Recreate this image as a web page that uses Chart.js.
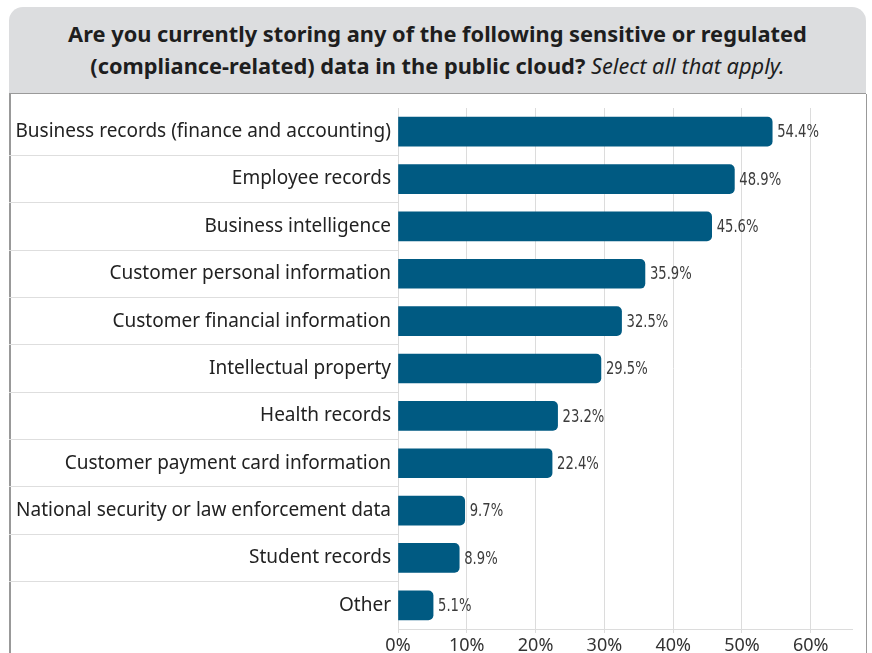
<!DOCTYPE html>
<html>
<head>
<meta charset="utf-8">
<script src="https://cdn.jsdelivr.net/npm/chart.js@4.4.1/dist/chart.umd.min.js"></script>
<style>
  html, body { margin: 0; padding: 0; background: #fff; overflow: hidden; }
  body { width: 872px; height: 653px; position: relative; }
  .header {
    position: absolute; left: 9px; top: 7px; width: 857px; height: 86px;
    background: #dcdddf; border-radius: 14px 14px 0 0;
    border-bottom: 1px solid #9a9a9a;
    font-family: "Noto Sans", sans-serif; font-weight: bold; font-size: 21.8px;
    line-height: 32px; color: #1e1e1e; text-align: center;
    display: flex; flex-direction: column; justify-content: center;
  }
  .header i { font-weight: normal; }
  .panel {
    position: absolute; left: 9px; top: 94px; width: 855px; height: 580px;
    border-left: 2px solid #999; border-right: 1px solid #999;
  }
  #chart { position: absolute; left: 9px; top: 94px; }
</style>
</head>
<body>
<div class="header">
  <div>Are you currently storing any of the following sensitive or regulated</div>
  <div>(compliance-related) data in the public cloud? <i>Select all that apply.</i></div>
</div>
<div class="panel"></div>
<canvas id="chart" width="857" height="559"></canvas>
<script>
// ====== DATA ======
const categories = [
  'Business records (finance and accounting)',
  'Employee records',
  'Business intelligence',
  'Customer personal information',
  'Customer financial information',
  'Intellectual property',
  'Health records',
  'Customer payment card information',
  'National security or law enforcement data',
  'Student records',
  'Other'
];
const percents = [54.4, 48.9, 45.6, 35.9, 32.5, 29.5, 23.2, 22.4, 9.7, 8.9, 5.1];
const xTicks = [0, 10, 20, 30, 40, 50, 60];
// ==================

const BAR = '#005a82';
const GRID = '#dcdcdc';

// value labels at bar ends (narrowed a bit to look condensed)
const valueLabels = {
  id: 'valueLabels',
  afterDatasetsDraw(chart){
    const { ctx } = chart;
    const meta = chart.getDatasetMeta(0);
    ctx.save();
    ctx.font = '17px "Liberation Sans Narrow", "DejaVu Sans Condensed", "Noto Sans", sans-serif';
    ctx.fillStyle = '#3c3c3c';
    ctx.textBaseline = 'middle';
    meta.data.forEach((bar, i) => {
      ctx.save();
      ctx.translate(bar.x + 5, bar.y + 1);
      ctx.scale(0.86, 1.05);
      ctx.fillText(percents[i].toFixed(1) + '%', 0, 0);
      ctx.restore();
    });
    ctx.restore();
  }
};

new Chart(document.getElementById('chart'), {
  type: 'bar',
  data: {
    labels: categories,
    datasets: [{
      data: percents,
      backgroundColor: BAR,
      borderRadius: 5,
      barThickness: 29
    }]
  },
  options: {
    indexAxis: 'y',
    responsive: false,
    animation: false,
    layout: { padding: { top: 14, right: 14, left: 0, bottom: 0 } },
    plugins: { legend: { display: false }, tooltip: { enabled: false } },
    scales: {
      x: {
        min: 0, max: 66,
        afterBuildTicks: s => { s.ticks = xTicks.map(v => ({ value: v })); },
        afterFit: s => { s.height = 24; },
        grid: { color: GRID, tickLength: 4 },
        border: { color: GRID },
        ticks: {
          color: '#333', padding: 2,
          font: { family: 'Noto Sans', size: 18 },
          callback: v => v + '%'
        }
      },
      y: {
        afterFit: s => { s.width = 389; },
        grid: {
          drawOnChartArea: false,
          tickLength: 389,
          color: c => (c.index === 0 || c.index === undefined) ? 'rgba(0,0,0,0)' : '#dedede'
        },
        border: { color: GRID },
        ticks: {
          color: '#222', padding: -382,
          font: { family: 'Noto Sans', size: 19 }
        }
      }
    }
  },
  plugins: [valueLabels]
});
</script>
</body>
</html>
